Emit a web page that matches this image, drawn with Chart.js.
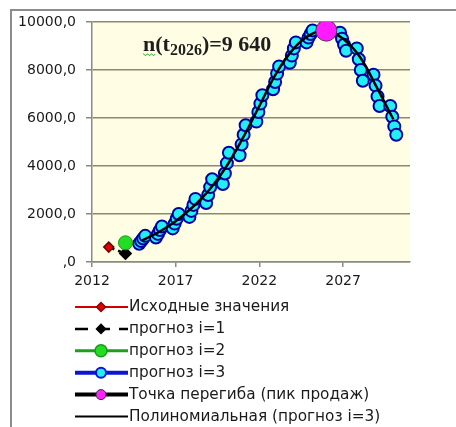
<!DOCTYPE html>
<html>
<head>
<meta charset="utf-8">
<script src="https://cdn.jsdelivr.net/npm/chart.js@4.4.1/dist/chart.umd.min.js"></script>
<style>
  html, body { margin: 0; padding: 0; background: #ffffff; }
  #wrap { position: relative; width: 456px; height: 427px; }
</style>
</head>
<body>
<div id="wrap"><canvas id="c" width="456" height="427"></canvas></div>
<script>
// ---- data ----
const xTickLabels = [2012, 2017, 2022, 2027];
const yTickValues = [0, 2000, 4000, 6000, 8000, 10000];

const legendLabels = [
  "Исходные значения",
  "прогноз i=1",
  "прогноз i=2",
  "прогноз i=3",
  "Точка перегиба (пик продаж)",
  "Полиномиальная (прогноз i=3)"
];

const origYears = [2013];
const origValues = [620];

const f1Years = [2013, 2014];
const f1Values = [620, 350];

const f2Years = [2014];
const f2Values = [800];

// prognosis i=3: four sub-period values per year
const f3Years = [2015, 2016, 2017, 2018, 2019, 2020, 2021, 2022, 2023, 2024, 2025, 2026, 2027, 2028, 2029, 2030];
const f3Values = [
  [760, 870, 980, 1090],
  [1020, 1170, 1330, 1480],
  [1400, 1600, 1800, 2000],
  [1880, 2130, 2380, 2630],
  [2460, 2790, 3120, 3450],
  [3250, 3690, 4120, 4550],
  [4450, 4900, 5300, 5700],
  [5850, 6250, 6600, 6950],
  [7200, 7500, 7850, 8150],
  [8300, 8600, 8900, 9150],
  [9150, 9350, 9500, 9650],
  [9600, 9680, 9680, 9600],
  [9550, 9300, 9050, 8800],
  [8900, 8450, 8000, 7550],
  [7800, 7350, 6900, 6500],
  [6500, 6050, 5650, 5300]
];

const peakYears = [2026];
const peakValues = [9640];

const trendYears = [2015, 2016, 2017, 2018, 2019, 2020, 2021, 2022, 2023, 2024, 2025, 2026, 2027, 2028, 2029, 2030];
const trendValues = [900, 1250, 1700, 2280, 3000, 3950, 5150, 6500, 7850, 8850, 9450, 9640, 9300, 8550, 7300, 5950];

const annotationMain = "n(t";
const annotationSub = "2026";
const annotationRest = ")=9 640";

// ---- build library structures ----
const pairs = (xs, ys) => xs.map((x, i) => ({ x: x, y: ys[i] }));
const subStep = 0.12;
const f3Data = [];
f3Years.forEach((yr, i) => {
  f3Values[i].forEach((v, q) => {
    f3Data.push({ x: yr + (q - 1.5) * subStep, y: v });
  });
});

const BLUE = '#0a14d8';
const CYAN = '#22eef5';
const TICK_FONT = '"DejaVu Sans", "Liberation Sans", sans-serif';

const bgPlugin = {
  id: 'bgPlugin',
  beforeDraw(chart) {
    const { ctx, chartArea: a } = chart;
    ctx.save();
    ctx.fillStyle = '#fffde4';
    ctx.fillRect(a.left, a.top, a.right - a.left, a.bottom - a.top);
    // outer frame
    ctx.strokeStyle = '#8c8c8c';
    ctx.lineWidth = 2;
    ctx.beginPath();
    ctx.moveTo(11, 427);
    ctx.lineTo(11, 10);
    ctx.lineTo(456, 10);
    ctx.stroke();
    ctx.restore();
  }
};

const annoPlugin = {
  id: 'annoPlugin',
  afterDatasetsDraw(chart) {
    const { ctx } = chart;
    ctx.save();
    ctx.fillStyle = '#1e1e1e';
    ctx.textBaseline = 'alphabetic';
    let x = 143, base = 51;
    ctx.font = 'bold 22px "Liberation Serif", "Times New Roman", serif';
    ctx.fillText(annotationMain, x, base);
    const nW = ctx.measureText('n').width;
    x += ctx.measureText(annotationMain).width;
    ctx.font = 'bold 16px "Liberation Serif", "Times New Roman", serif';
    ctx.fillText(annotationSub, x, base + 4);
    x += ctx.measureText(annotationSub).width;
    ctx.font = 'bold 22px "Liberation Serif", "Times New Roman", serif';
    ctx.fillText(annotationRest, x, base);
    // green wavy underline under "n"
    ctx.strokeStyle = '#4caf50';
    ctx.lineWidth = 1;
    ctx.beginPath();
    for (let i = 0; i <= nW; i += 1) {
      const yy = base + 3 + (Math.floor(i / 2) % 2 === 0 ? 0 : 1.5);
      if (i === 0) ctx.moveTo(143 + i, yy); else ctx.lineTo(143 + i, yy);
    }
    ctx.stroke();
    ctx.restore();
  }
};

function drawDiamond(ctx, x, y, r, fill, stroke) {
  ctx.beginPath();
  ctx.moveTo(x, y - r); ctx.lineTo(x + r, y); ctx.lineTo(x, y + r); ctx.lineTo(x - r, y); ctx.closePath();
  ctx.fillStyle = fill; ctx.fill();
  ctx.strokeStyle = stroke; ctx.lineWidth = 1.5; ctx.stroke();
}
function drawCircle(ctx, x, y, r, fill, stroke, lw) {
  ctx.beginPath();
  ctx.arc(x, y, r, 0, Math.PI * 2);
  ctx.fillStyle = fill; ctx.fill();
  ctx.strokeStyle = stroke; ctx.lineWidth = lw; ctx.stroke();
}

const legendPlugin = {
  id: 'customLegend',
  afterDraw(chart) {
    const { ctx } = chart;
    const x0 = 75, x1 = 128, xm = 101, tx = 129, y0 = 307, dy = 21.9;
    ctx.save();
    ctx.font = '15.3px "DejaVu Sans", "Liberation Sans", sans-serif';
    ctx.textBaseline = 'middle';
    legendLabels.forEach((lab, i) => {
      const y = y0 + i * dy;
      ctx.setLineDash([]);
      if (i === 0) {
        ctx.strokeStyle = '#d00000'; ctx.lineWidth = 2;
        ctx.beginPath(); ctx.moveTo(x0, y); ctx.lineTo(x1, y); ctx.stroke();
        drawDiamond(ctx, xm, y, 4.5, '#e00000', '#8b0000');
      } else if (i === 1) {
        ctx.strokeStyle = '#000'; ctx.lineWidth = 2.5;
        ctx.setLineDash([13, 9]);
        ctx.beginPath(); ctx.moveTo(x0, y); ctx.lineTo(x1, y); ctx.stroke();
        ctx.setLineDash([]);
        drawDiamond(ctx, xm, y, 4.5, '#000', '#000');
      } else if (i === 2) {
        ctx.strokeStyle = '#1aa01a'; ctx.lineWidth = 3;
        ctx.beginPath(); ctx.moveTo(x0, y); ctx.lineTo(x1, y); ctx.stroke();
        drawCircle(ctx, xm, y, 6, '#22dd22', '#1a9a1a', 1.5);
      } else if (i === 3) {
        ctx.strokeStyle = BLUE; ctx.lineWidth = 4;
        ctx.beginPath(); ctx.moveTo(x0, y); ctx.lineTo(x1, y); ctx.stroke();
        drawCircle(ctx, xm, y, 5, CYAN, BLUE, 2);
      } else if (i === 4) {
        ctx.strokeStyle = '#000'; ctx.lineWidth = 4;
        ctx.beginPath(); ctx.moveTo(x0, y); ctx.lineTo(x1, y); ctx.stroke();
        drawCircle(ctx, xm, y, 5, '#ff22ff', '#333', 1);
      } else {
        ctx.strokeStyle = '#000'; ctx.lineWidth = 2;
        ctx.beginPath(); ctx.moveTo(x0, y); ctx.lineTo(x1, y); ctx.stroke();
      }
      ctx.fillStyle = '#1a1a1a';
      ctx.fillText(lab, tx, y + 0.5);
    });
    ctx.restore();
  }
};

new Chart(document.getElementById('c'), {
  type: 'scatter',
  data: {
    datasets: [
      {
        label: legendLabels[4],
        data: pairs(peakYears, peakValues),
        pointStyle: 'circle',
        pointRadius: 10.5,
        pointBackgroundColor: '#ff1aff',
        pointBorderColor: '#5a2a5a',
        pointBorderWidth: 1,
        showLine: false,
        order: 0
      },
      {
        label: legendLabels[5],
        data: pairs(trendYears, trendValues),
        showLine: true,
        borderColor: '#000000',
        borderWidth: 2.5,
        pointRadius: 0,
        tension: 0.4,
        order: 1
      },
      {
        label: legendLabels[2],
        data: pairs(f2Years, f2Values),
        pointRadius: 7,
        pointBackgroundColor: '#22dd22',
        pointBorderColor: '#1a9a1a',
        pointBorderWidth: 1,
        order: 2
      },
      {
        label: legendLabels[0],
        data: pairs(origYears, origValues),
        pointStyle: 'rectRot',
        pointRadius: 5,
        pointBackgroundColor: '#e00000',
        pointBorderColor: '#6b0000',
        pointBorderWidth: 1.5,
        order: 3
      },
      {
        label: legendLabels[1],
        data: pairs(f1Years, f1Values),
        showLine: true,
        borderColor: '#000000',
        borderWidth: 2.5,
        borderDash: [6, 4],
        pointStyle: 'rectRot',
        pointRadius: [0, 5],
        pointBackgroundColor: '#000000',
        pointBorderColor: '#000000',
        order: 4
      },
      {
        label: legendLabels[3],
        data: f3Data,
        showLine: true,
        borderColor: BLUE,
        borderWidth: 3,
        borderDash: [5, 3],
        pointRadius: 6,
        pointBackgroundColor: CYAN,
        pointBorderColor: '#0000a0',
        pointBorderWidth: 2,
        order: 5
      }
    ]
  },
  options: {
    responsive: false,
    animation: false,
    devicePixelRatio: 1,
    layout: { padding: { top: 22, right: 46, bottom: 135, left: 0 } },
    plugins: {
      legend: { display: false },
      tooltip: { enabled: false }
    },
    scales: {
      x: {
        type: 'linear',
        min: 2012,
        max: 2031,
        afterBuildTicks(scale) { scale.ticks = xTickLabels.map(v => ({ value: v })); },
        afterFit(scale) { scale.height = 30; },
        grid: { drawOnChartArea: false, drawTicks: true, tickLength: 5, color: '#8a8a8a', lineWidth: 1.5 },
        border: { display: true, color: '#8a8a8a', width: 1.5 },
        ticks: {
          padding: 6,
          color: '#1a1a1a',
          font: { family: TICK_FONT, size: 14 },
          callback: v => String(v),
          maxRotation: 0
        }
      },
      y: {
        min: 0,
        max: 10000,
        afterBuildTicks(scale) { scale.ticks = yTickValues.map(v => ({ value: v })); },
        afterFit(scale) { scale.width = 92; },
        grid: { color: '#8b8a70', lineWidth: 1.5, tickLength: 6, drawTicks: true },
        border: { display: true, color: '#8a8a8a', width: 1.5 },
        ticks: {
          padding: 10,
          color: '#1a1a1a',
          font: { family: TICK_FONT, size: 14 },
          callback: v => (v === 0 ? ',0' : v + ',0')
        }
      }
    }
  },
  plugins: [bgPlugin, annoPlugin, legendPlugin]
});
</script>
</body>
</html>
